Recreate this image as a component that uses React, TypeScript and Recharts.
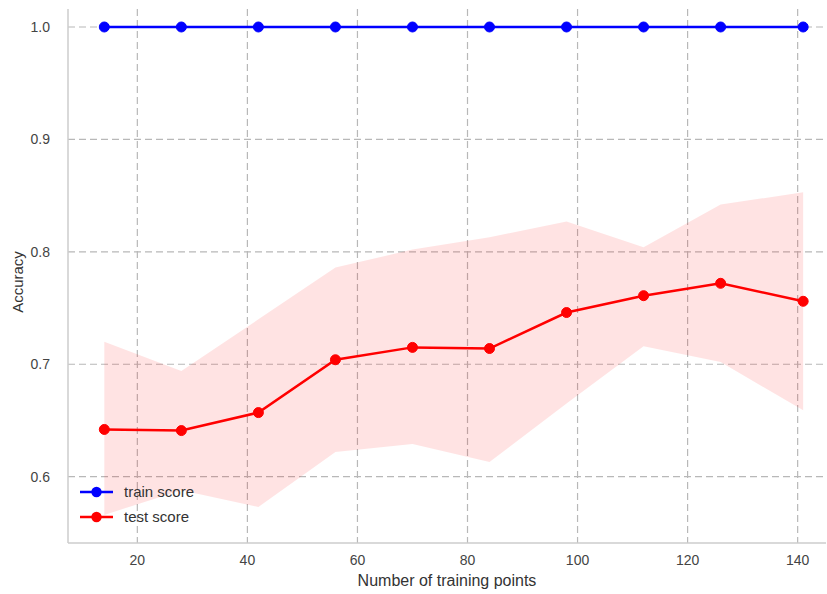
import React from 'react';
import { ComposedChart, Line, Area, XAxis, YAxis, CartesianGrid, Legend } from 'recharts';

const trainingPoints = [14, 28, 42, 56, 70, 84, 98, 112, 126, 141];
const trainScore = [1.0, 1.0, 1.0, 1.0, 1.0, 1.0, 1.0, 1.0, 1.0, 1.0];
const testScore = [0.642, 0.641, 0.657, 0.704, 0.715, 0.714, 0.746, 0.761, 0.772, 0.756];
const testUpper = [0.72, 0.694, 0.74, 0.786, 0.802, 0.813, 0.827, 0.804, 0.842, 0.853];
const testLower = [0.566, 0.588, 0.573, 0.622, 0.629, 0.613, 0.665, 0.716, 0.702, 0.659];
const xTicks = [20, 40, 60, 80, 100, 120, 140];
const yTicks = [0.6, 0.7, 0.8, 0.9, 1.0];
const xDomain: [number, number] = [7.4, 145.15];
const yDomain: [number, number] = [0.541, 1.016];

const data = trainingPoints.map((n, i) => ({
  n,
  train: trainScore[i],
  test: testScore[i],
  band: [testLower[i], testUpper[i]],
}));

const FONT = '"Liberation Sans", Arial, sans-serif';

const legendItems = [
  { name: 'train score', color: '#0000ff' },
  { name: 'test score', color: '#ff0000' },
];

const LegendContent = () => (
  <div style={{ fontFamily: FONT, fontSize: 15, color: '#333' }}>
    {legendItems.map((it) => (
      <div key={it.name} style={{ display: 'flex', alignItems: 'center', height: 25 }}>
        <svg width={36} height={12} style={{ marginRight: 9 }}>
          <line x1={1} y1={6} x2={34} y2={6} stroke={it.color} strokeWidth={2.5} />
          <circle cx={17.5} cy={6} r={5.2} fill={it.color} />
        </svg>
        <span>{it.name}</span>
      </div>
    ))}
  </div>
);

const hGen = ({ offset }: any) =>
  yTicks.map((t) => offset.top + ((yDomain[1] - t) / (yDomain[1] - yDomain[0])) * offset.height);
const vGen = ({ offset }: any) =>
  xTicks.map((t) => offset.left + ((t - xDomain[0]) / (xDomain[1] - xDomain[0])) * offset.width);

export default function App() {
  return (
    <div style={{ position: 'absolute', left: 0, top: 0, background: '#fff' }}>
      <ComposedChart
        width={827}
        height={594}
        data={data}
        margin={{ top: 9, right: 1, left: 8, bottom: 21 }}
      >
        <CartesianGrid
          stroke="#b8b8b8"
          strokeDasharray="7 4"
          strokeWidth={1.2}
          horizontalCoordinatesGenerator={hGen}
          verticalCoordinatesGenerator={vGen}
        />
        <XAxis
          dataKey="n"
          type="number"
          domain={xDomain}
          ticks={xTicks}
          allowDataOverflow
          height={30}
          tickLine={false}
          axisLine={{ stroke: '#cccccc', strokeWidth: 1.5 }}
          tick={{ fill: '#444', fontSize: 14, fontFamily: FONT }}
          tickMargin={6}
          label={{ value: 'Number of training points', position: 'bottom', offset: 2, style: { fill: '#333', fontSize: 16, fontFamily: FONT } }}
        />
        <YAxis
          type="number"
          domain={yDomain}
          ticks={yTicks}
          allowDataOverflow
          width={60}
          tickLine={false}
          tickFormatter={(v: number) => v.toFixed(1)}
          axisLine={{ stroke: '#cccccc', strokeWidth: 1.5 }}
          tick={{ fill: '#444', fontSize: 14, fontFamily: FONT }}
          tickMargin={12}
          label={{ value: 'Accuracy', angle: -90, position: 'insideLeft', offset: 10, dy: 6, style: { textAnchor: 'middle', fill: '#333', fontSize: 15, fontFamily: FONT } }}
        />
        <Area
          dataKey="band"
          type="linear"
          stroke="none"
          fill="#ff0000"
          fillOpacity={0.11}
          isAnimationActive={false}
          legendType="none"
        />
        <Line
          dataKey="train"
          name="train score"
          type="linear"
          stroke="#0000ff"
          strokeWidth={2.5}
          dot={{ r: 5, fill: '#0000ff', stroke: '#0000ff', strokeWidth: 1 }}
          isAnimationActive={false}
        />
        <Line
          dataKey="test"
          name="test score"
          type="linear"
          stroke="#ff0000"
          strokeWidth={2.5}
          dot={{ r: 5, fill: '#ff0000', stroke: '#ff0000', strokeWidth: 1 }}
          isAnimationActive={false}
        />
        <Legend
          content={<LegendContent />}
          layout="vertical"
          align="center"
          verticalAlign="middle"
          wrapperStyle={{ left: 79, top: 479, width: 'auto' }}
        />
      </ComposedChart>
    </div>
  );
}
